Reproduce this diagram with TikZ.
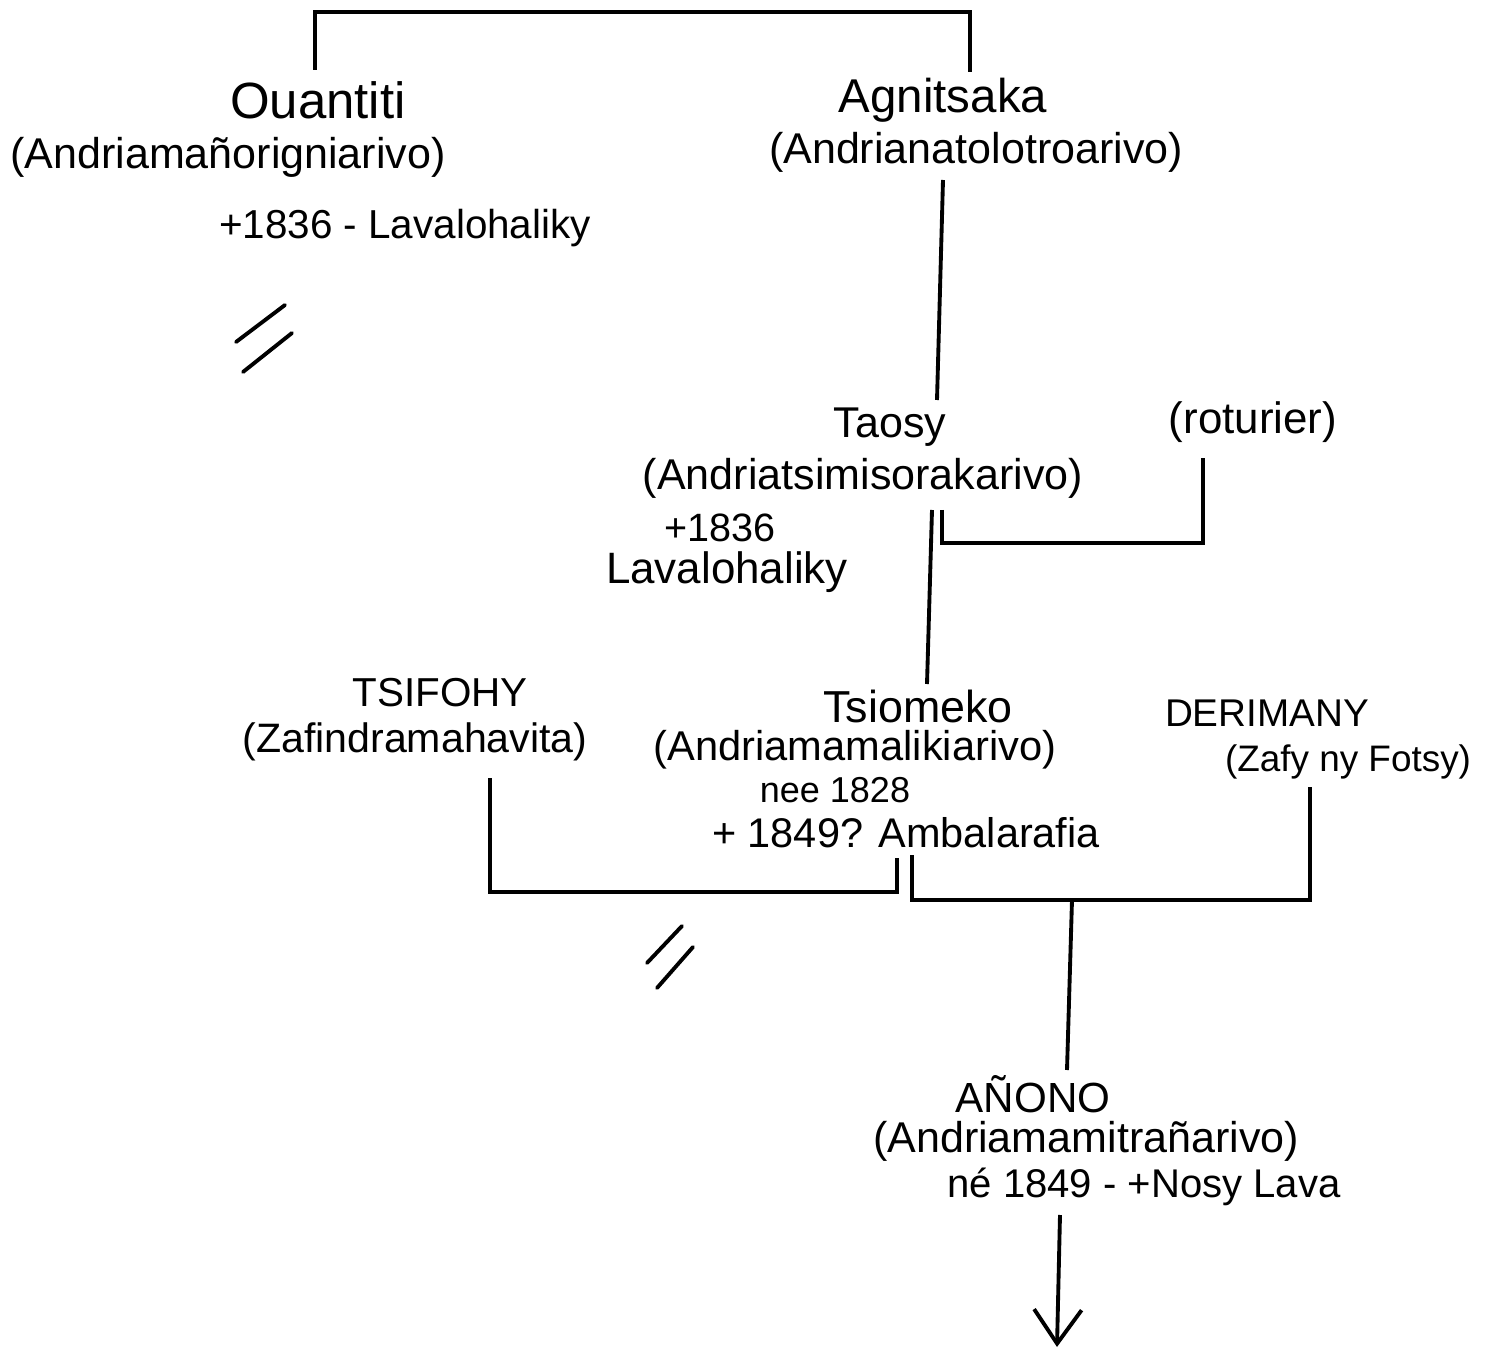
\documentclass[tikz,border=0pt]{standalone}
\usepackage{fontspec}
\setmainfont{Liberation Sans}
\usetikzlibrary{arrows.meta}

\begin{document}
\begin{tikzpicture}[x=0.02cm,y=-0.02cm,line width=2.2pt,
  pname/.style={inner sep=0pt,font=\fontsize{#1}{#1}\selectfont},
  pname/.default=25,
  pfull/.style={inner sep=0pt,font=\fontsize{#1}{#1}\selectfont},
  pfull/.default=24.5,
  pnote/.style={inner sep=0pt,font=\fontsize{#1}{#1}\selectfont},
  pnote/.default=23]

\useasboundingbox (0,0) rectangle (1485,1351);

% First generation
\node[pname=29] (ouantiti) at (318,100) {Ouantiti};
\node[pfull] (ouantitiF) at (228,157) {(Andriamañorigniarivo)};
\node[pnote] (ouantitiD) at (405,228) {+1836 - Lavalohaliky};
\node[pname=27] (agnitsaka) at (943,100) {Agnitsaka};
\node[pfull] (agnitsakaF) at (976,152) {(Andrianatolotroarivo)};

% Second generation
\node[pname=24.5] (taosy) at (890,427) {Taosy};
\node[pfull] (taosyF) at (863,478) {(Andriatsimisorakarivo)};
\node[pnote=22.5] (taosyD) at (720,528) {+1836};
\node[pnote=25] (taosyP) at (727,572) {Lavalohaliky};
\node[pfull=25] (roturier) at (1253,422) {(roturier)};

% Third generation
\node[pname=23] (tsifohy) at (440,693) {TSIFOHY};
\node[pfull=23.4] (tsifohyF) at (415,742) {(Zafindramahavita)};
\node[pname=25.5] (tsiomeko) at (918,706) {Tsiomeko};
\node[pfull=23.7] (tsiomekoF) at (855,750) {(Andriamamalikiarivo)};
\node[pnote=20.5] (tsiomekoB) at (835,790) {nee 1828};
\node[pnote=23.6] (tsiomekoD) at (906,833) {+ 1849? Ambalarafia};
\node[pname=22] (derimany) at (1267,713) {DERIMANY};
\node[pfull=21] (derimanyF) at (1348,762) {(Zafy ny Fotsy)};

% Fourth generation
\node[pname=24] (anono) at (1033,1094) {AÑONO};
\node[pfull] (anonoF) at (1086,1141) {(Andriamamitrañarivo)};
\node[pnote=22.8] (anonoD) at (1144,1187) {né 1849 - +Nosy Lava};

% Bracket ends
\coordinate (ouUp) at (315,70);
\coordinate (topL) at (315,12);
\coordinate (agUp) at (970,72);
\coordinate (agDown) at (943,180);
\coordinate (taUp) at (937,400);
\coordinate (taDown) at (932,510);
\coordinate (tsUp) at (927,684);
\coordinate (taWed) at (942,510);
\coordinate (roDown) at (1203,458);
\coordinate (tfDown) at (490,778);
\coordinate (tsWedL) at (897,858);
\coordinate (tsWedR) at (912,855);
\coordinate (deDown) at (1310,787);
\coordinate (wedMid) at (1072,900);
\coordinate (anUp) at (1067,1070);
\coordinate (anDown) at (1060,1215);
\coordinate (anEnd) at (1057,1347);

% Sibling bracket
\draw (ouUp) -- (topL) -| (agUp);

% Descent lines
\draw (agDown) -- (taUp);
\draw (taDown) -- (tsUp);
\draw (wedMid) -- (anUp);
\draw[-{Straight Barb[length=0.68cm,width=0.95cm]}] (anDown) -- (anEnd);

% Unions
\draw (taWed) |- (roDown |- 0,543) -- (roDown);
\draw (tfDown) |- (tsWedL |- 0,892) -- (tsWedL);
\draw (tsWedR) |- (deDown |- 0,900) -- (deDown);

% Broken lines
\draw[line cap=round] (236,342) -- (285,305);
\draw[line cap=round] (243,372) -- (292,333);
\draw[line cap=round] (647,963) -- (682,926);
\draw[line cap=round] (657,988) -- (693,947);

\end{tikzpicture}
\end{document}
